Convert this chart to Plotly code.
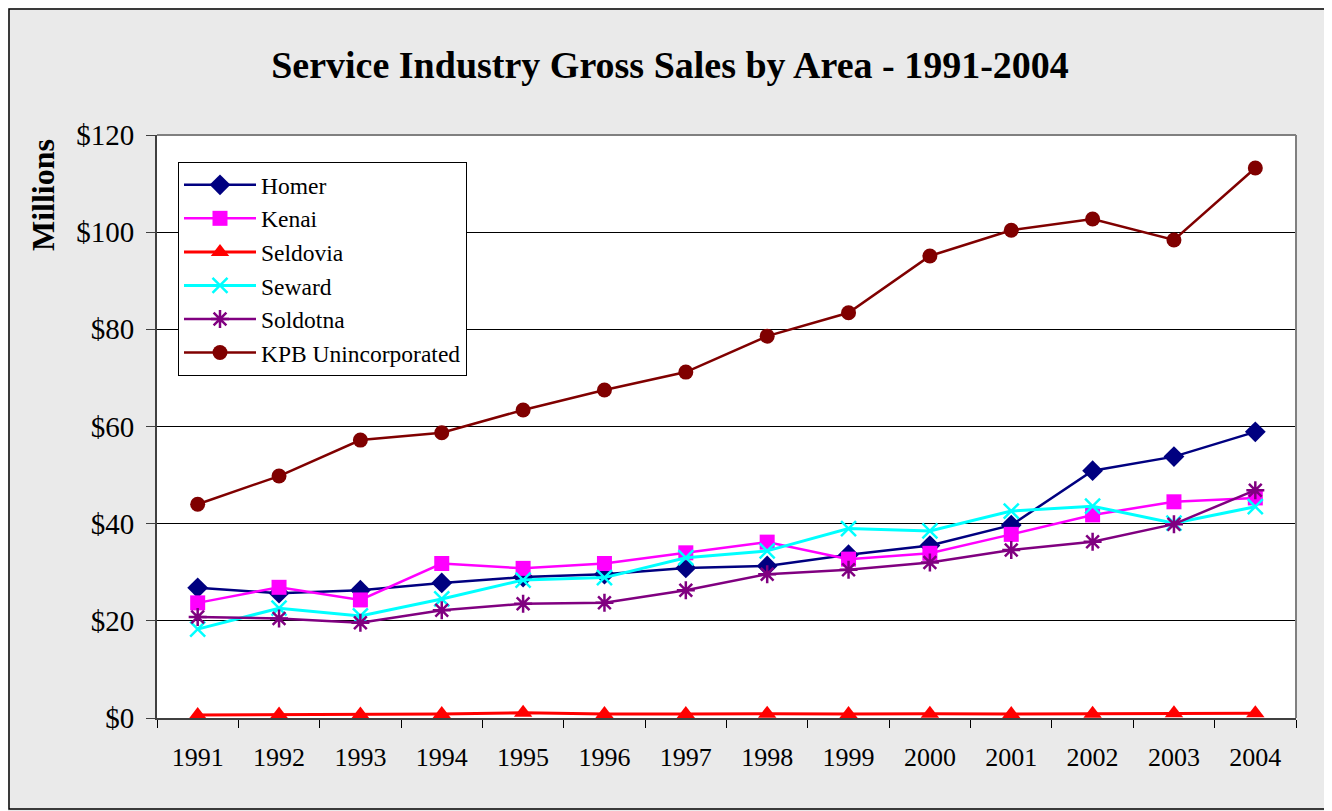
import plotly.graph_objects as go

years = ["1991", "1992", "1993", "1994", "1995", "1996", "1997",
         "1998", "1999", "2000", "2001", "2002", "2003", "2004"]

homer = [26.8, 25.7, 26.3, 27.8, 29.0, 29.6, 30.9, 31.3, 33.6, 35.5, 39.7, 50.9, 53.8, 58.9]
kenai = [23.7, 26.9, 24.3, 31.8, 30.8, 31.8, 34.0, 36.2, 32.7, 33.9, 37.8, 41.8, 44.5, 45.3]
seldovia = [0.6, 0.7, 0.7, 0.8, 1.1, 0.8, 0.8, 0.9, 0.8, 0.9, 0.8, 0.9, 1.0, 1.0]
seward = [18.3, 22.6, 21.0, 24.5, 28.4, 28.9, 33.0, 34.4, 39.0, 38.5, 42.6, 43.6, 40.1, 43.5]
soldotna = [20.8, 20.5, 19.6, 22.2, 23.5, 23.7, 26.3, 29.6, 30.5, 32.0, 34.6, 36.3, 39.9, 46.9]
kpb = [44.0, 49.8, 57.2, 58.7, 63.4, 67.5, 71.2, 78.6, 83.4, 95.1, 100.4, 102.7, 98.4, 113.2]

series = [
    ("Homer", homer, "#000080", "diamond", 16, 2.5),
    ("Kenai", kenai, "#FF00FF", "square", 15, 2.5),
    ("Seldovia", seldovia, "#FF0000", "triangle-up", 16, 3),
    ("Seward", seward, "#00FFFF", "x-thin-open", 15, 3),
    ("Soldotna", soldotna, "#800080", "asterisk-open", 15, 2.5),
    ("KPB Unincorporated", kpb, "#800000", "circle", 15, 2.5),
]

FONT = "Liberation Serif, Times New Roman, serif"

fig = go.Figure()
for name, vals, color, sym, size, lw in series:
    open_sym = sym.endswith("open")
    fig.add_trace(go.Scatter(
        x=years, y=vals, name=name, mode="lines+markers",
        line=dict(color=color, width=lw),
        marker=dict(symbol=sym, size=size, color=color,
                    line=dict(color=color, width=2.5 if open_sym else 0)),
    ))

OFF = 8  # page body margin
W, H = 1332 - OFF, 811 - OFF
L, R, T, B = 157 - OFF, 1296 - OFF, 135 - OFF, 718 - OFF
pw, ph = R - L, B - T

def px(x):
    return (x - OFF - L) / pw

def py(y):
    return (B - (y - OFF)) / ph

fig.update_layout(
    width=W, height=H,
    margin=dict(l=L, r=W - R, t=T, b=H - B, pad=0),
    paper_bgcolor="#EAEAEA",
    plot_bgcolor="#FFFFFF",
    font=dict(family=FONT, color="#000000"),
    title=dict(text="<b>Service Industry Gross Sales by Area - 1991-2004</b>",
               x=0.5, xanchor="center", y=1 - (65 - OFF) / H, yanchor="middle",
               font=dict(size=38, family=FONT, color="#000000")),
    showlegend=True,
    legend=dict(x=px(178), y=py(162), xanchor="left", yanchor="top",
                bgcolor="#FFFFFF", bordercolor="#000000", borderwidth=1,
                font=dict(size=23.5, family=FONT, color="#000000"),
                itemwidth=72),
    xaxis=dict(type="category", range=[-0.5, 13.5], tickson="boundaries",
               ticks="outside", ticklen=8, tickcolor="#000000", tickwidth=1,
               showline=True, linecolor="#404040", linewidth=2,
               showgrid=False, zeroline=False,
               tickfont=dict(size=26, family=FONT, color="#000000"),
               ticklabelstandoff=15),
    yaxis=dict(range=[0, 120], dtick=20, tickprefix="$",
               ticks="outside", ticklen=9, tickcolor="#404040", tickwidth=1,
               showline=True, linecolor="#404040", linewidth=2,
               showgrid=True, gridcolor="#000000", gridwidth=1,
               zeroline=False,
               tickfont=dict(size=29, family=FONT, color="#000000"),
               ticklabelstandoff=6),
    shapes=[
        dict(type="line", xref="paper", yref="paper", x0=0, x1=1, y0=1, y1=1,
             line=dict(color="#808080", width=2)),
        dict(type="line", xref="paper", yref="paper", x0=1, x1=1, y0=0, y1=1,
             line=dict(color="#808080", width=2)),
        dict(type="rect", xref="paper", yref="paper",
             x0=px(OFF + 1), x1=px(1330), y0=py(809), y1=py(OFF + 1),
             line=dict(color="#000000", width=1.5), layer="below"),
    ],
    annotations=[
        dict(text="<b>Millions</b>", textangle=-90, xref="paper", yref="paper",
             x=px(43), y=py(195), xanchor="center", yanchor="middle",
             showarrow=False, font=dict(size=32, family=FONT, color="#000000")),
    ],
)

fig.write_html("out.html")
